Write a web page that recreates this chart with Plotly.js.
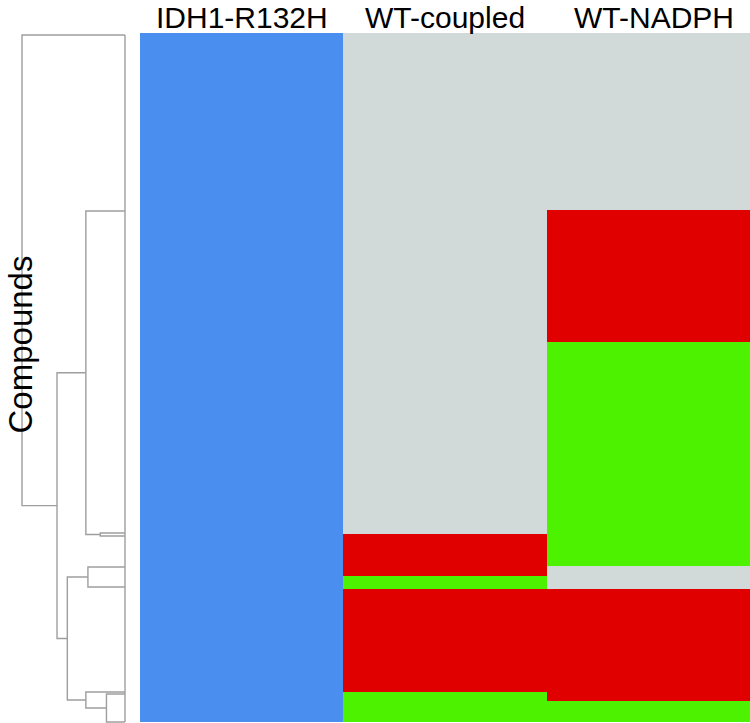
<!DOCTYPE html>
<html>
<head>
<meta charset="utf-8">
<script src="https://cdn.plot.ly/plotly-3.0.1.min.js"></script>
<style>html,body{margin:0;padding:0;background:#fff;}#chart{width:750px;height:723px;}</style>
</head>
<body>
<div id="chart"></div>
<script>
// Assay columns
var assays = ["IDH1-R132H", "WT-coupled", "WT-NADPH"];
// Row block edges (compound positions, top to bottom)
var rowEdges = [0, 177, 309, 501, 533, 543, 556, 659, 668, 689];
// Activity class per block: 0 = inactive (gray), 1 = red, 2 = green, 3 = blue
var idh1Values      = [3, 3, 3, 3, 3, 3, 3, 3, 3];
var wtCoupledValues = [0, 0, 0, 1, 1, 2, 1, 2, 2];
var wtNadphValues   = [0, 1, 2, 2, 0, 0, 1, 1, 2];

// Dendrogram leaves (position) and merges [node, childA, childB, height]
var leafPositions = {L1: 2, L2: 178, L3: 500, L4: 503, L5: 534, L6: 554, L7: 659, L8: 661, L9: 689};
var merges = [
  ["n1", "L3", "L4", 0.24],
  ["n2", "L2", "n1", 0.38],
  ["n3", "L5", "L6", 0.36],
  ["n4", "L8", "L9", 0.18],
  ["n5", "L7", "n4", 0.38],
  ["n6", "n3", "n5", 0.56],
  ["n7", "n2", "n6", 0.66],
  ["n8", "L1", "n7", 1.00]
];

var colors = {gray: "#d1d9d9", red: "#e10000", green: "#4df200", blue: "#4a8ff0"};

var z = [];
for (var i = 0; i < idh1Values.length; i++) {
  z.push([idh1Values[i], wtCoupledValues[i], wtNadphValues[i]]);
}

var heat = {
  type: "heatmap",
  x: assays,
  y: rowEdges,
  z: z,
  zmin: 0, zmax: 3,
  colorscale: [
    [0, colors.gray], [0.1667, colors.gray],
    [0.1667, colors.red], [0.5, colors.red],
    [0.5, colors.green], [0.8333, colors.green],
    [0.8333, colors.blue], [1, colors.blue]
  ],
  showscale: false,
  xaxis: "x", yaxis: "y",
  hoverinfo: "skip"
};

// Build dendrogram lines
var nodes = {};
Object.keys(leafPositions).forEach(function (k) { nodes[k] = {y: leafPositions[k], h: 0}; });
var dx = [], dy = [];
merges.forEach(function (m) {
  var a = nodes[m[1]], b = nodes[m[2]], h = m[3];
  dx.push(a.h, h, h, b.h, null);
  dy.push(a.y, a.y, b.y, b.y, null);
  nodes[m[0]] = {y: (a.y + b.y) / 2, h: h};
});
var leafYs = Object.keys(leafPositions).map(function (k) { return leafPositions[k]; });
dx.push(0, 0, null);
dy.push(Math.min.apply(null, leafYs), Math.max.apply(null, leafYs), null);

var dendro = {
  type: "scatter", mode: "lines",
  x: dx, y: dy,
  line: {color: "#9e9e9e", width: 1.4},
  xaxis: "x2", yaxis: "y",
  hoverinfo: "skip", showlegend: false,
  connectgaps: false
};

var W = 750, H = 723;
function py(p) { return (H - p) / H; }

var titleShift = [0, 0, 6];
var annotations = assays.map(function (a, k) {
  return {
    text: a, x: a, xref: "x", y: 1, yref: "paper",
    xanchor: "center", yanchor: "top", showarrow: false, xshift: titleShift[k],
    borderpad: 0,
    font: {family: "Liberation Sans, Arial, sans-serif", size: 30, color: "#000"}
  };
});
annotations.push({
  text: "Compounds", x: 0, xref: "paper", y: py(345), yref: "paper",
  xanchor: "left", yanchor: "middle", showarrow: false, textangle: -90,
  borderpad: 0,
  font: {family: "Liberation Sans, Arial, sans-serif", size: 33, color: "#000"}
});

var layout = {
  width: W, height: H,
  margin: {l: 0, r: 0, t: 0, b: 0, pad: 0},
  paper_bgcolor: "#fff", plot_bgcolor: "rgba(0,0,0,0)",
  showlegend: false,
  xaxis: {domain: [140 / W, 1], range: [-0.5, 2.5], showticklabels: false, showgrid: false, zeroline: false, ticks: "", fixedrange: true},
  xaxis2: {domain: [0, 140 / W], range: [125 / 103, -15 / 103], anchor: "y", showticklabels: false, showgrid: false, zeroline: false, ticks: ""},
  yaxis: {domain: [0, py(31)], range: [690, -2], showticklabels: false, showgrid: false, zeroline: false, ticks: ""},
  annotations: annotations
};

Plotly.newPlot("chart", [heat, dendro], layout, {displayModeBar: false, staticPlot: true});
</script>
</body>
</html>
